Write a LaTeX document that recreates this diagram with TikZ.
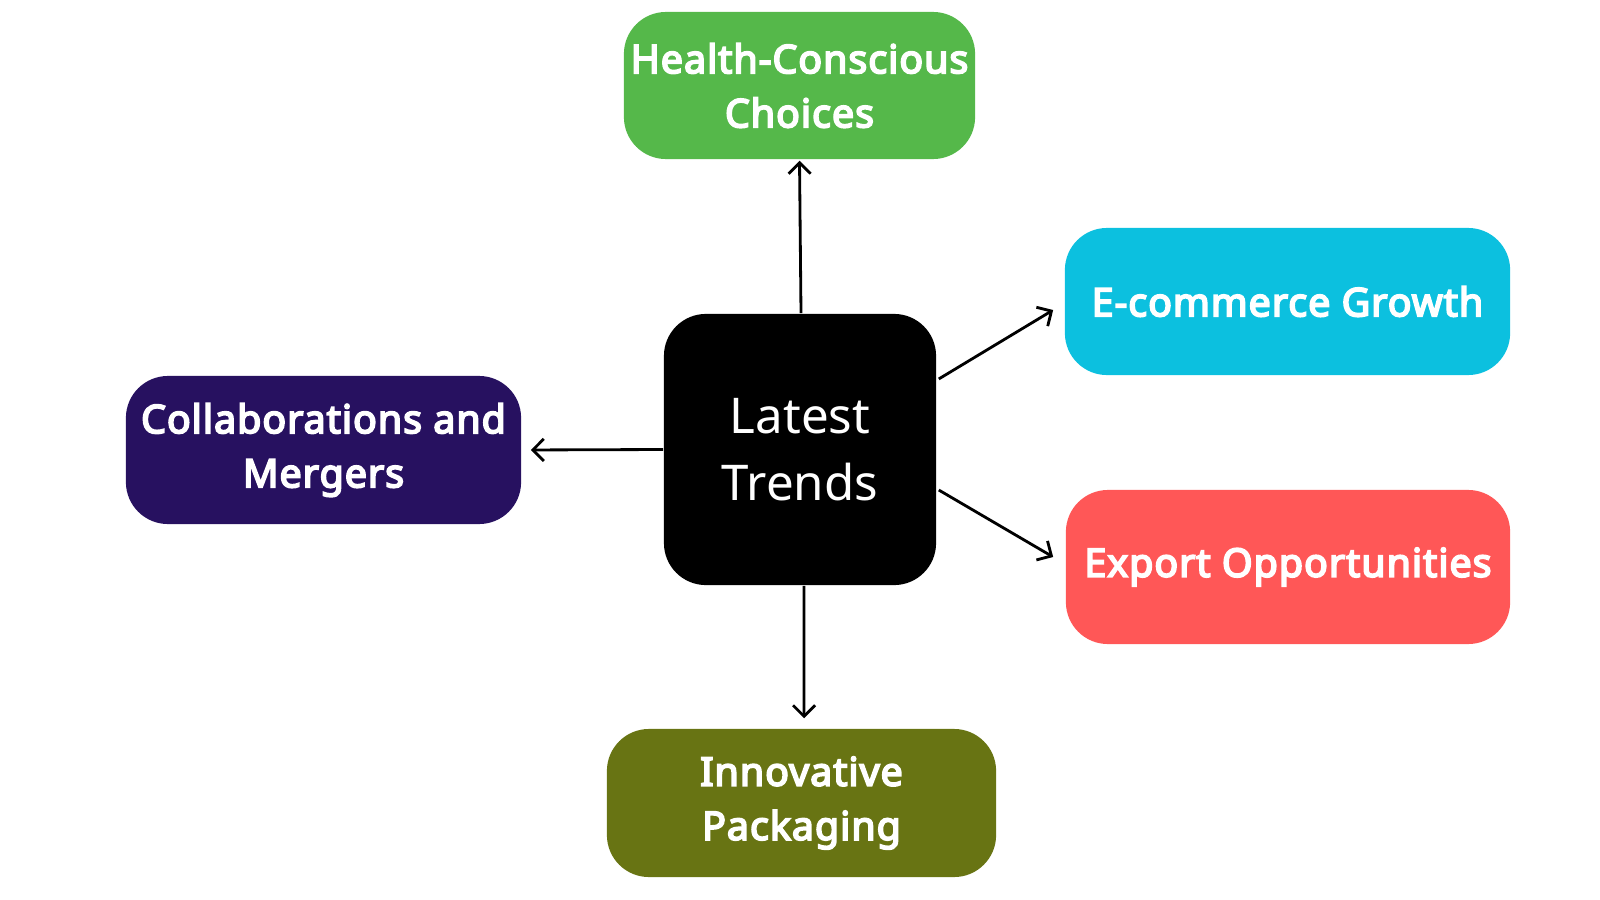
\documentclass[tikz,border=0pt]{standalone}
\usepackage{fontspec}
\setmainfont{Noto Sans}[BoldFont={Noto Sans}, BoldFeatures={FakeBold=4.5,LetterSpace=2.5}]
\usetikzlibrary{arrows.meta}
\definecolor{cgreen}{HTML}{55B84A}
\definecolor{ccyan}{HTML}{0CC0DF}
\definecolor{cred}{HTML}{FF5757}
\definecolor{cpurple}{HTML}{271160}
\definecolor{colive}{HTML}{687413}
\tikzset{
  box/.style={rounded corners=0.42cm, align=center, text=white, inner sep=0pt,
    font=\fontsize{11.2}{15.4}\selectfont\bfseries},
  arr/.style={-{Straight Barb[length=1.1mm,width=2.2mm]}, line width=0.8pt, black}
}
\begin{document}
\begin{tikzpicture}[x=0.01cm,y=-0.01cm]
\useasboundingbox (0,0) rectangle (1600,900);
\node[box, fill=black, minimum width=2.72cm, minimum height=2.71cm,
  font=\fontsize{14}{19}\selectfont] (c) at (800,449.5) {Latest\\Trends};
\node[box, fill=cgreen, minimum width=3.51cm, minimum height=1.47cm] (h) at (799.5,85.5) {Health-Conscious\\Choices};
\node[box, fill=ccyan, minimum width=4.45cm, minimum height=1.47cm] (e) at (1287.5,301.5) {E-commerce Growth};
\node[box, fill=cred, minimum width=4.44cm, minimum height=1.54cm] (x) at (1288,567) {Export Opportunities};
\node[box, fill=cpurple, minimum width=3.95cm, minimum height=1.48cm] (m) at (323.5,450) {Collaborations and\\Mergers};
\node[box, fill=colive, minimum width=3.89cm, minimum height=1.48cm] (i) at (801.5,803) {Innovative\\Packaging};
\draw[arr] ([xshift=0.01cm]c.north) -- ([yshift=-0.01cm]h.south);
\draw[arr, shorten >=0.1cm] ([xshift=0.04cm]c.south) -- ([xshift=0.025cm]i.north);
\draw[arr, shorten >=0.09cm] (c.west) -- (m.east);
\draw[arr] ([xshift=0.02cm,yshift=0.705cm]c.east) -- ([xshift=-0.11cm,yshift=-0.085cm]e.west);
\draw[arr] ([xshift=0.02cm,yshift=-0.405cm]c.east) -- ([xshift=-0.12cm,yshift=0.10cm]x.west);
\end{tikzpicture}
\end{document}
